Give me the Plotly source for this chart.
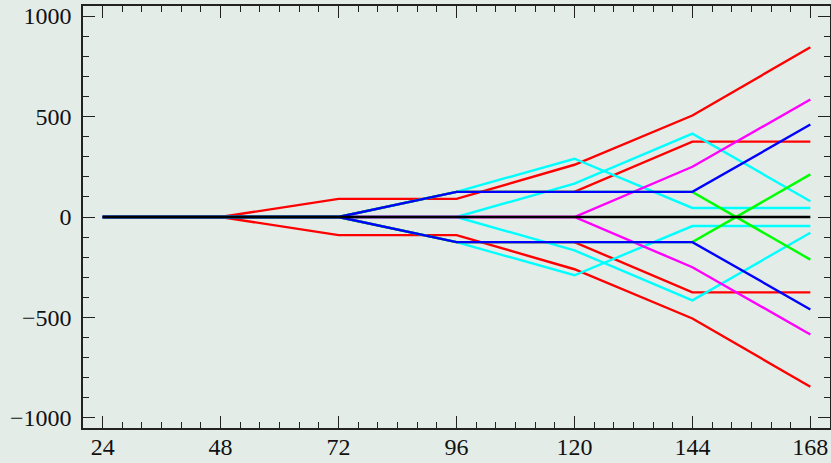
import plotly.graph_objects as go

hours = [24, 48, 72, 96, 120, 144, 168]

red_outer = [0, 0, 90, 90, 260, 505, 845]
red_inner = [0, 0, 0, 125, 125, 375, 375]
cyan_a = [0, 0, 0, 125, 290, 45, 45]
cyan_b = [0, 0, 0, 0, 166, 415, 78]
magenta = [0, 0, 0, 0, 0, 250, 585]
green = [0, 0, 0, 125, 125, 125, -212]
blue = [0, 0, 0, 125, 125, 125, 460]
zero = [0, 0, 0, 0, 0, 0, 0]

y_ticks = [-1000, -500, 0, 500, 1000]
y_tick_labels = ["\u22121000", "\u2212500", "0", "500", "1000"]
x_ticks = [24, 48, 72, 96, 120, 144, 168]

series = [
    ("red outer", red_outer, "#ff0000"),
    ("red inner", red_inner, "#ff0000"),
    ("cyan a", cyan_a, "#00ffff"),
    ("cyan b", cyan_b, "#00ffff"),
    ("magenta", magenta, "#ff00ff"),
    ("green", green, "#00ff00"),
    ("blue", blue, "#0000ff"),
]

fig = go.Figure()
for name, vals, col in series:
    for sign in (1, -1):
        fig.add_trace(go.Scatter(
            x=hours, y=[sign * v for v in vals], mode="lines",
            line=dict(color=col, width=2.4), name=name, showlegend=False,
            hoverinfo="skip"))
fig.add_trace(go.Scatter(x=hours, y=zero, mode="lines",
                         line=dict(color="#000000", width=2.6),
                         showlegend=False, hoverinfo="skip"))

bg = "#e4ece8"
font_family = "Liberation Serif"
axis_common = dict(
    showline=True, linecolor="#222222", linewidth=1.5, mirror="allticks",
    ticks="inside", ticklen=12, tickwidth=1, tickcolor="#222222",
    showgrid=False, zeroline=False, automargin=False,
    tickfont=dict(family=font_family, size=24, color="#111111"),
)

fig.update_layout(
    width=831, height=463,
    margin=dict(l=83, r=1, t=6, b=35),
    paper_bgcolor=bg, plot_bgcolor=bg,
    font=dict(family=font_family),
    xaxis=dict(range=[20, 172], tickvals=x_ticks,
               minor=dict(dtick=4, tick0=0, ticks="inside", ticklen=6,
                          tickwidth=1, tickcolor="#222222", showgrid=False),
               ticklabelstandoff=-4,
               **axis_common),
    yaxis=dict(range=[-1050, 1050], tickvals=y_ticks, ticktext=y_tick_labels,
               minor=dict(dtick=100, tick0=0, ticks="inside", ticklen=6,
                          tickwidth=1, tickcolor="#222222", showgrid=False),
               ticklabelstandoff=5,
               **axis_common),
)

fig.write_html("out.html", config={"displayModeBar": False},
               post_script="document.body.style.margin='0';")
